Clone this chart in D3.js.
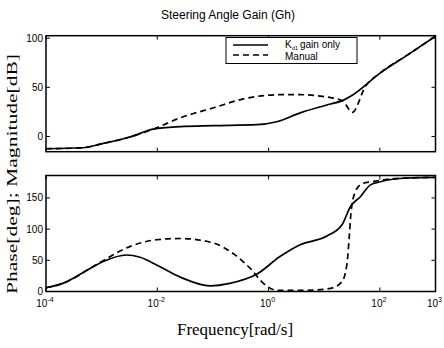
<!DOCTYPE html>
<html><head><meta charset="utf-8">
<script src="https://cdn.jsdelivr.net/npm/d3@7"></script>
<style>
body{margin:0;background:#fff;}
svg{display:block;}
</style></head>
<body>
<svg id="c" width="444" height="348"></svg>
<script>
// ---- data ----
const title = "Steering Angle Gain (Gh)";
const xTickValues = [1e-4, 1e-2, 1e0, 1e2, 1e3];
const xTickExps = ["-4", "-2", "0", "2", "3"];
const magTicks = [0, 50, 100];
const phaseTicks = [0, 50, 100, 150];

const magSolidF = [1e-4, 4.6e-4, 1e-3, 3.2e-3, 8.5e-3, 0.026, 0.1, 0.62, 1.4, 3.7, 13, 19.5, 33, 102, 316, 1000];
const magSolidV = [-12.5, -11.5, -7.5, -0.6, 7.5, 10, 11, 12, 15, 24, 33, 35.7, 42.5, 64.7, 83, 102];

const magDashF = [1e-4, 4.6e-4, 1e-3, 3.2e-3, 8.5e-3, 0.026, 0.1, 0.41, 1.6, 3.7, 8.5, 14.5, 22, 32, 55, 102, 316, 1000];
const magDashV = [-12.5, -11.5, -7.5, -0.6, 7.5, 19, 29, 39, 42.5, 42.5, 41, 39, 35.7, 24.5, 51, 64.7, 83, 102];

const phSolidF = [1e-4, 2e-4, 6.2e-4, 1.07e-3, 2.8e-3, 4.9e-3, 0.011, 0.026, 0.089, 0.2, 0.62, 1.6, 3.7, 11.2, 20.9, 29.5, 44.7, 67.6, 102, 309, 1000];
const phSolidV = [6, 13, 37, 48, 58.5, 55, 40, 23, 9, 13, 28, 56, 75, 89, 107, 136, 152, 171, 176, 182, 183];

const phDashF = [1e-4, 2e-4, 6.2e-4, 1.23e-3, 3.2e-3, 9.8e-3, 0.026, 0.1, 0.23, 0.47, 0.81, 1.4, 5, 12.9, 20.9, 25.7, 28.2, 30.2, 35.5, 47.9, 72.4, 135, 309, 1000];
const phDashV = [6, 13, 37, 53, 72, 83, 85, 78, 61, 37, 13, 2, 2, 5, 16, 45, 88, 125, 158, 173, 176, 180, 182, 183];

const legendLabels = ["gain only", "Manual"];

// ---- layout ----
const svg = d3.select("#c");
const L = 46, R = 435.5;
const top1 = 35.7, bot1 = 151.7, top2 = 175.5, bot2 = 291.5;
const sans = "'Liberation Sans', Arial, Helvetica, sans-serif";
const serif = "'Liberation Serif', 'Times New Roman', serif";

const x = d3.scaleLog().domain([1e-4, 1e3]).range([L, R]);
const yMag = d3.scaleLinear().domain([-15.5, 102.5]).range([bot1, top1]);
const yPh = d3.scaleLinear().domain([0, 186]).range([bot2, top2]);

svg.append("text").attr("x", 228).attr("y", 19).attr("text-anchor", "middle")
  .attr("font-family", sans).attr("font-size", 12).text(title);

function panel(y, yticks, top, bot, showX) {
  const g = svg.append("g");
  const tl = 4;
  yticks.forEach(v => {
    const yy = y(v);
    g.append("line").attr("x1", L).attr("x2", L + tl).attr("y1", yy).attr("y2", yy).attr("stroke", "#000").attr("stroke-width", 1);
    g.append("line").attr("x1", R).attr("x2", R - tl).attr("y1", yy).attr("y2", yy).attr("stroke", "#000").attr("stroke-width", 1);
    g.append("text").attr("x", L - 3).attr("y", yy + 3.5).attr("text-anchor", "end")
      .attr("font-family", sans).attr("font-size", 10).text(v);
  });
  xTickValues.forEach((v, i) => {
    const xx = x(v);
    g.append("line").attr("x1", xx).attr("x2", xx).attr("y1", bot).attr("y2", bot - tl).attr("stroke", "#000").attr("stroke-width", 1);
    g.append("line").attr("x1", xx).attr("x2", xx).attr("y1", top).attr("y2", top + tl).attr("stroke", "#000").attr("stroke-width", 1);
    if (showX) {
      const t = g.append("text").attr("x", xx - 1).attr("y", bot + 15).attr("text-anchor", "middle")
        .attr("font-family", sans).attr("font-size", 10);
      t.append("tspan").text("10");
      t.append("tspan").attr("dy", -5).attr("font-size", 7).text(xTickExps[i]);
    }
  });
  g.append("rect").attr("x", L).attr("y", top).attr("width", R - L).attr("height", bot - top)
    .attr("fill", "none").attr("stroke", "#000").attr("stroke-width", 1.5);
}

panel(yMag, magTicks, top1, bot1, false);
panel(yPh, phaseTicks, top2, bot2, true);

function drawLine(F, V, y, dashed) {
  const pts = F.map((f, i) => [f, V[i]]);
  const line = d3.line().x(d => x(d[0])).y(d => y(d[1])).curve(d3.curveMonotoneX);
  svg.append("path").attr("d", line(pts)).attr("fill", "none").attr("stroke", "#000")
    .attr("stroke-width", 1.7).attr("stroke-dasharray", dashed ? "6,4" : null);
}
drawLine(magDashF, magDashV, yMag, true);
drawLine(magSolidF, magSolidV, yMag, false);
drawLine(phDashF, phDashV, yPh, true);
drawLine(phSolidF, phSolidV, yPh, false);

// legend
const lg = svg.append("g");
lg.append("rect").attr("x", 226).attr("y", 37.5).attr("width", 131).attr("height", 26)
  .attr("fill", "#fff").attr("stroke", "#000").attr("stroke-width", 1);
lg.append("line").attr("x1", 233).attr("x2", 268).attr("y1", 45).attr("y2", 45).attr("stroke", "#000").attr("stroke-width", 1.7);
lg.append("line").attr("x1", 233).attr("x2", 268).attr("y1", 55).attr("y2", 55).attr("stroke", "#000").attr("stroke-width", 1.7).attr("stroke-dasharray", "6,4");
lg.append("text").attr("x", 285).attr("y", 48).attr("font-family", sans).attr("font-size", 10).text("K");
lg.append("text").attr("x", 292).attr("y", 50).attr("font-family", sans).attr("font-size", 5.5).text("d1");
lg.append("text").attr("x", 300).attr("y", 48).attr("font-family", sans).attr("font-size", 10).text(legendLabels[0]);
lg.append("text").attr("x", 285).attr("y", 59.5).attr("font-family", sans).attr("font-size", 10).text(legendLabels[1]);

// axis labels
svg.append("text").attr("transform", "translate(17,174) rotate(-90)").attr("text-anchor", "middle")
  .attr("font-family", serif).attr("font-size", 15).attr("textLength", 240).attr("lengthAdjust", "spacingAndGlyphs")
  .text("Phase[deg]; Magnitude[dB]");
svg.append("text").attr("x", 235).attr("y", 335).attr("text-anchor", "middle")
  .attr("font-family", serif).attr("font-size", 17).text("Frequency[rad/s]");
</script>
</body></html>
